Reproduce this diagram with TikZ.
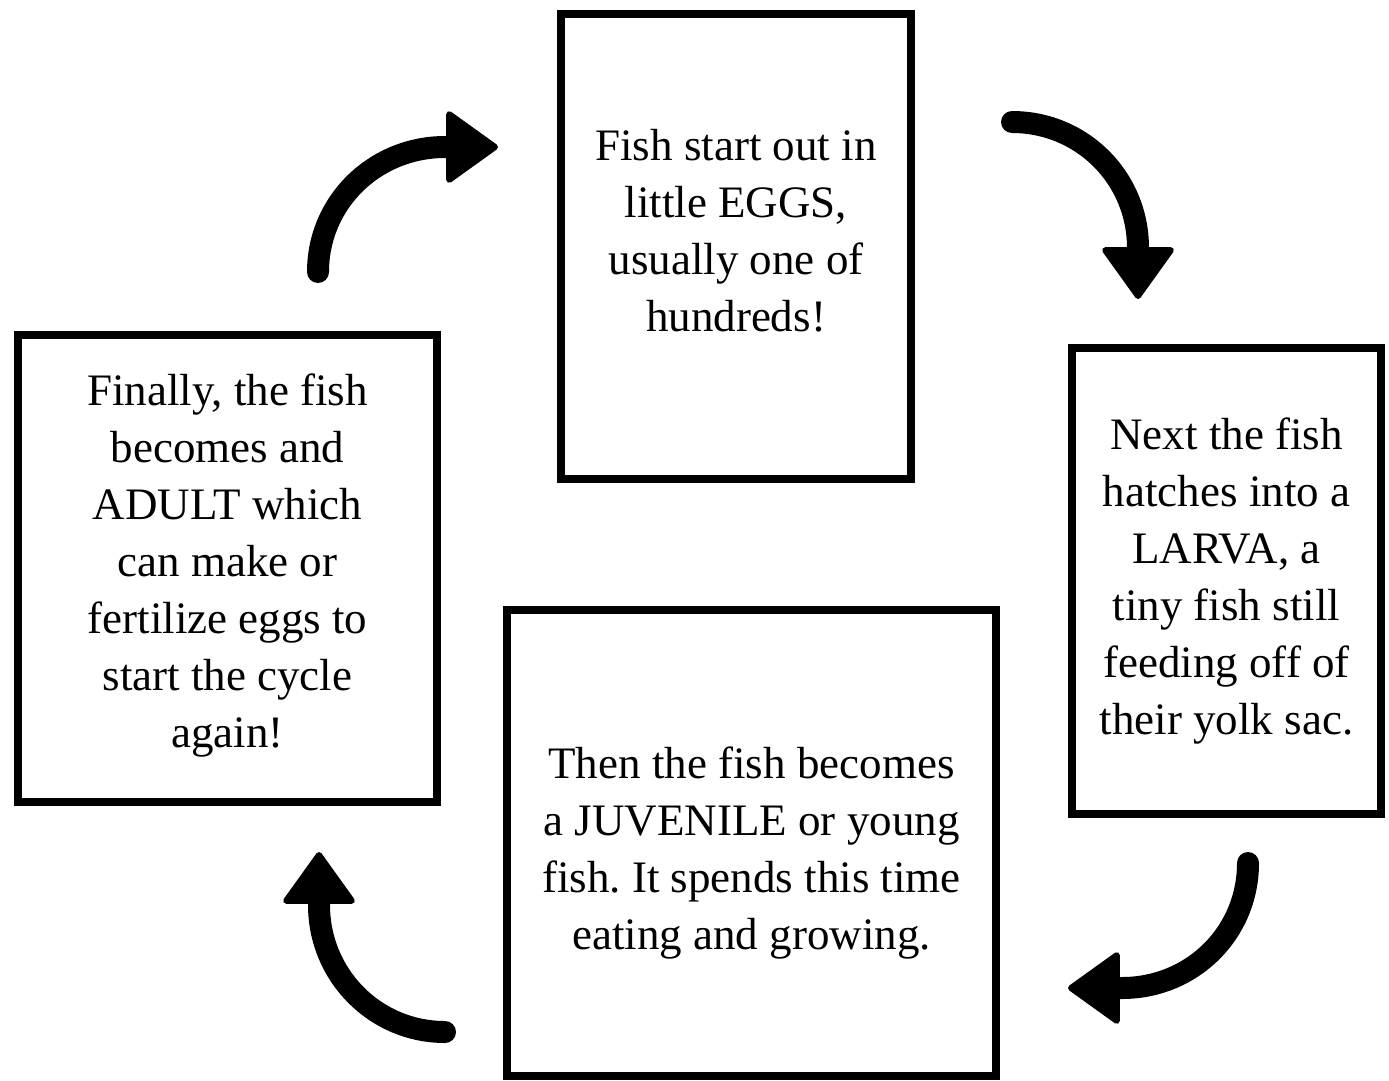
\documentclass[tikz,border=0pt]{standalone}
\usepackage{fontspec}
\setmainfont{Liberation Serif}
\usetikzlibrary{arrows.meta}
\frenchspacing
\begin{document}
\begin{tikzpicture}[x=1pt,y=-1pt,
  stage/.style={draw=black,line width=8.5pt,rectangle,inner sep=0pt},
  stagetext/.style={align=center,inner sep=0pt,font=\fontsize{45}{57}\selectfont},
  cyclearrow/.style={line width=22pt,line cap=round,
    -{Triangle[width=76pt,length=54pt,line width=6pt,round]}}]
\useasboundingbox (0,0) rectangle (1389,1080);
\node[stage,minimum width=350pt,minimum height=465pt] (eggs) at (736,246.5) {};
\node[stage,minimum width=309pt,minimum height=466pt] (larva) at (1226.5,581) {};
\node[stage,minimum width=489pt,minimum height=466pt] (juvenile) at (751.5,843) {};
\node[stage,minimum width=419pt,minimum height=467pt] (adult) at (227.5,568.5) {};
\node[stagetext] (eggst) at ([yshift=16pt]eggs.center)
  {Fish start out in\\little EGGS,\\usually one of\\hundreds!};
\node[stagetext] (larvat) at (larva.center)
  {Next the fish\\hatches into a\\LARVA, a\\tiny fish still\\feeding off of\\their yolk sac.};
\node[stagetext] (juvenilet) at ([yshift=-10pt]juvenile.center)
  {Then the fish becomes\\a JUVENILE or young\\fish. It spends this time\\eating and growing.};
\node[stagetext] (adultt) at ([yshift=3pt]adult.center)
  {Finally, the fish\\becomes and\\ADULT which\\can make or\\fertilize eggs to\\start the cycle\\again!};
% arrow end points
\coordinate (a1s) at (318,272);
\coordinate (a1m) at (445,147);
\coordinate (a1t) at (498,147);
\coordinate (a2s) at (1012,122);
\coordinate (a2m) at (1138,248);
\coordinate (a2t) at (1138,299);
\coordinate (a3s) at (1248,863);
\coordinate (a3m) at (1122,988);
\coordinate (a3t) at (1068,988);
\coordinate (a4s) at (445,1032);
\coordinate (a4m) at (319,905);
\coordinate (a4t) at (319,852);
\draw[cyclearrow] (a1s) .. controls (318,202) and (375,147) .. (a1m) -- (a1t);
\draw[cyclearrow] (a2s) .. controls (1082,122) and (1138,178) .. (a2m) -- (a2t);
\draw[cyclearrow] (a3s) .. controls (1248,933) and (1192,988) .. (a3m) -- (a3t);
\draw[cyclearrow] (a4s) .. controls (375,1032) and (319,975) .. (a4m) -- (a4t);
\end{tikzpicture}
\end{document}
